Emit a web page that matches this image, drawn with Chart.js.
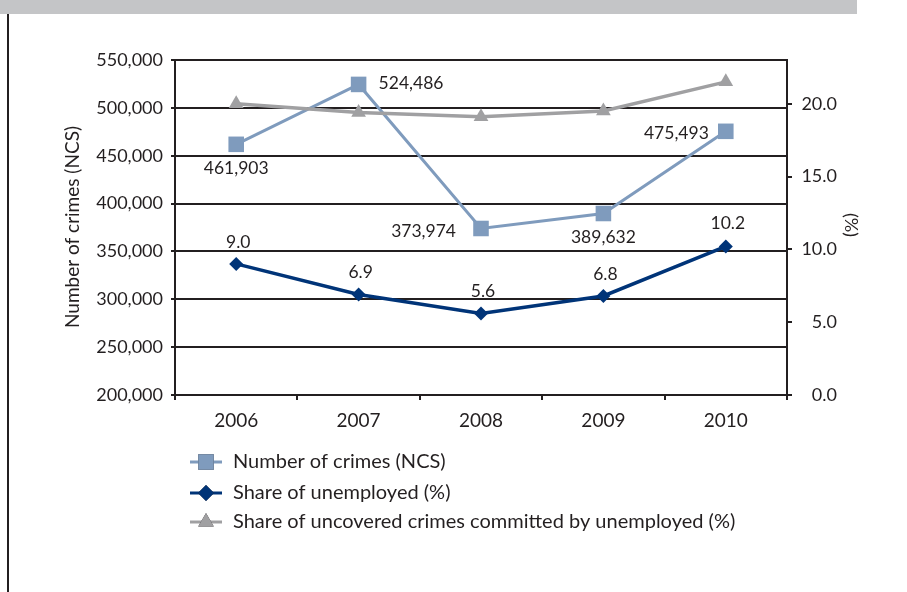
<!DOCTYPE html>
<html>
<head>
<meta charset="utf-8">
<script src="https://cdn.jsdelivr.net/npm/chart.js@4/dist/chart.umd.min.js"></script>
<style>
  html, body { margin: 0; padding: 0; background: #ffffff; }
  #wrap { position: relative; width: 907px; height: 592px; overflow: hidden; }
  #topbar { position: absolute; left: 0; top: 0; width: 857px; height: 14px; background: #c4c5c7; }
  #sideline { position: absolute; left: 7px; top: 14px; width: 2px; height: 578px; background: #231f20; }
  canvas { position: absolute; left: 0; top: 0; }
</style>
</head>
<body>
<div id="wrap">
  <div id="topbar"></div>
  <div id="sideline"></div>
  <canvas id="c" width="907" height="592"></canvas>
</div>
<script>
// ---- data ----
const years = ["2006", "2007", "2008", "2009", "2010"];
const crimesNCS = [461903, 524486, 373974, 389632, 475493];
const shareUnemployed = [9.0, 6.9, 5.6, 6.8, 10.2];
const shareUncoveredByUnemployed = [20.0, 19.4, 19.1, 19.5, 21.5];
const leftTicks = [200000, 250000, 300000, 350000, 400000, 450000, 500000, 550000];
const rightTicks = [0, 5, 10, 15, 20];
const seriesNames = [
  "Number of crimes (NCS)",
  "Share of unemployed (%)",
  "Share of uncovered crimes committed by unemployed (%)"
];
const leftTitle = "Number of crimes (NCS)";
const rightTitle = "(%)";

// ---- styles ----
const INK = "#231f20";
const C_CRIMES = "#7f9bbd";
const C_UNEMP = "#003478";
const C_GRAY = "#a0a0a2";
const FONT = "Lato";

const fmtThousands = v => Number(v).toLocaleString("en-US");

const labelPlugin = {
  id: "valueLabels",
  afterDatasetsDraw(chart) {
    const ctx = chart.ctx;
    ctx.save();
    ctx.font = "17.5px " + FONT;
    ctx.fillStyle = INK;
    ctx.textBaseline = "middle";
    chart.data.datasets.forEach((ds, i) => {
      const spec = ds.labelSpec;
      if (!spec) return;
      const meta = chart.getDatasetMeta(i);
      meta.data.forEach((pt, j) => {
        const s = spec[j];
        ctx.textAlign = s[2];
        ctx.fillText(ds.labelFmt(ds.data[j]), pt.x + s[0], pt.y + s[1]);
      });
    });
    ctx.restore();
  },
  afterDraw(chart) {
    const ctx = chart.ctx;
    ctx.save();
    ctx.fillStyle = INK;
    // axis titles
    ctx.font = "19px " + FONT;
    ctx.textAlign = "center";
    ctx.textBaseline = "middle";
    ctx.save();
    ctx.translate(73, 227);
    ctx.rotate(-Math.PI / 2);
    ctx.fillText(leftTitle, 0, 0);
    ctx.restore();
    ctx.font = "18px " + FONT;
    ctx.save();
    ctx.translate(851, 225);
    ctx.rotate(Math.PI / 2);
    ctx.fillText(rightTitle, 0, 0);
    ctx.restore();

    // legend
    const rows = [462, 493, 522];
    chart.data.datasets.forEach((ds, i) => {
      const y = rows[i];
      ctx.strokeStyle = ds.borderColor;
      ctx.lineWidth = 3;
      ctx.beginPath();
      ctx.moveTo(190, y);
      ctx.lineTo(222, y);
      ctx.stroke();
      Chart.helpers.drawPoint(ctx, {
        pointStyle: ds.pointStyle,
        radius: ds.legendRadius,
        borderWidth: 0
      }, 206, y);
      ctx.fillStyle = ds.borderColor;
      ctx.fill();
      ctx.fillStyle = INK;
      ctx.font = "20px " + FONT;
      ctx.textAlign = "left";
      ctx.fillText(seriesNames[i], 233, y);
    });
    ctx.restore();
  }
};

new Chart(document.getElementById("c"), {
  type: "line",
  data: {
    labels: years,
    datasets: [
      {
        label: seriesNames[0],
        data: crimesNCS,
        yAxisID: "y",
        borderColor: C_CRIMES,
        backgroundColor: C_CRIMES,
        borderWidth: 3,
        pointStyle: "rect",
        pointRadius: 11,
        pointBorderWidth: 0,
        legendRadius: 11,
        order: 2,
        labelFmt: fmtThousands,
        labelSpec: [[0, 24, "center"], [20, -1, "left"], [-25, 3, "right"], [0, 24, "center"], [-17, 2, "right"]]
      },
      {
        label: seriesNames[1],
        data: shareUnemployed,
        yAxisID: "y1",
        borderColor: C_UNEMP,
        backgroundColor: C_UNEMP,
        borderWidth: 3.5,
        pointStyle: "rectRot",
        pointRadius: 7,
        pointBorderWidth: 0,
        legendRadius: 8,
        order: 1,
        labelFmt: v => v.toFixed(1),
        labelSpec: [[2, -22, "center"], [2, -22, "center"], [2, -22, "center"], [2, -22, "center"], [2, -23, "center"]]
      },
      {
        label: seriesNames[2],
        data: shareUncoveredByUnemployed,
        yAxisID: "y1",
        borderColor: C_GRAY,
        backgroundColor: C_GRAY,
        borderWidth: 3.5,
        pointStyle: "triangle",
        pointRadius: 8.5,
        pointBorderWidth: 0,
        legendRadius: 9,
        order: 0
      }
    ]
  },
  options: {
    responsive: false,
    animation: false,
    events: [],
    layout: { padding: { top: 60, right: 70, left: 0, bottom: 0 } },
    plugins: { legend: { display: false }, tooltip: { enabled: false } },
    elements: { line: { tension: 0 } },
    scales: {
      x: {
        type: "category",
        offset: true,
        grid: { offset: true, drawOnChartArea: false, color: INK, lineWidth: 2, tickLength: 5 },
        border: { color: INK, width: 2 },
        ticks: { font: { family: FONT, size: 19 }, color: INK, padding: 9, maxRotation: 0 },
        afterFit(s) { s.height = 197; }
      },
      y: {
        position: "left",
        min: leftTicks[0],
        max: leftTicks[leftTicks.length - 1],
        afterBuildTicks(s) { s.ticks = leftTicks.map(v => ({ value: v })); },
        grid: { color: INK, lineWidth: 2, tickLength: 4 },
        border: { color: INK, width: 2 },
        ticks: { font: { family: FONT, size: 18 }, color: INK, padding: 8, callback: v => fmtThousands(v) },
        afterFit(s) { s.width = 175; }
      },
      y1: {
        position: "right",
        min: 0,
        max: 23,
        afterBuildTicks(s) { s.ticks = rightTicks.map(v => ({ value: v })); },
        grid: { drawOnChartArea: false, color: INK, lineWidth: 2, tickLength: 5 },
        border: { color: INK, width: 2 },
        ticks: { font: { family: FONT, size: 18 }, color: INK, crossAlign: "far", callback: v => Number(v).toFixed(1) },
        afterFit(s) { s.width = 50; }
      }
    }
  },
  plugins: [labelPlugin]
});
</script>
</body>
</html>
